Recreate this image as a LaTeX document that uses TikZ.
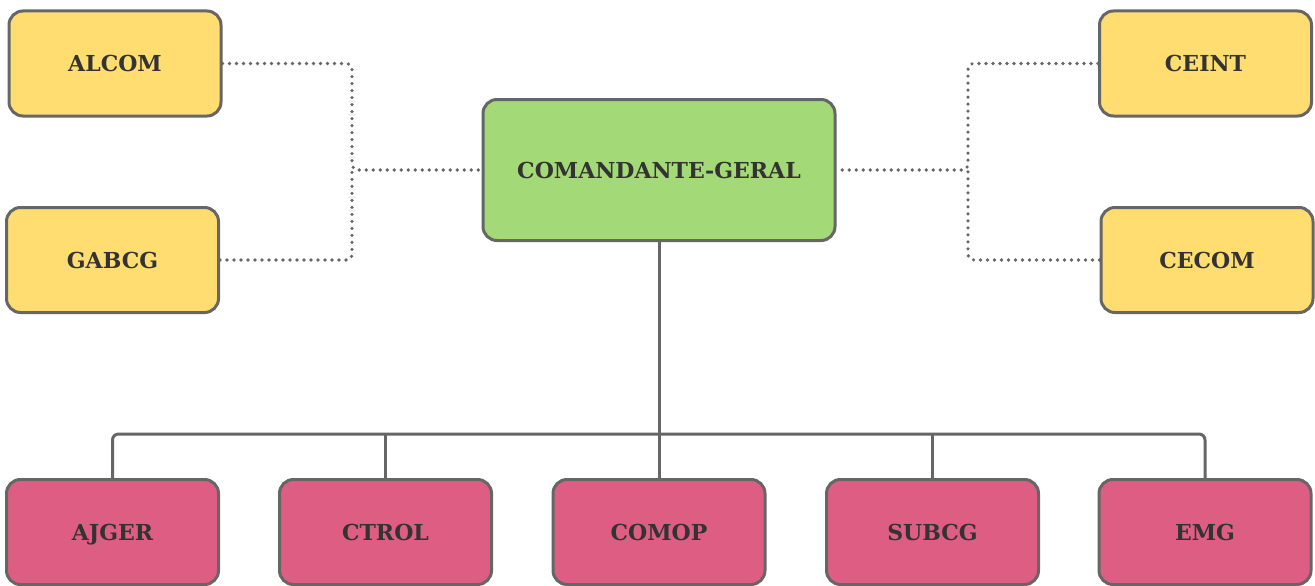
\documentclass[tikz,border=0pt]{standalone}
\usepackage{fontspec}
\setmainfont{DejaVu Serif}
\usepackage{xcolor}
\usepackage{tikz}

\definecolor{boxyellow}{HTML}{FFDD71}
\definecolor{boxgreen}{HTML}{A3D977}
\definecolor{boxpink}{HTML}{DD5E82}
\definecolor{edgegray}{HTML}{666666}
\definecolor{textgray}{HTML}{333333}

\begin{document}
\begin{tikzpicture}[x=1pt, y=-1pt,
  unit/.style={draw=edgegray, line width=3pt, rounded corners=14pt,
    minimum width=212pt, minimum height=105pt, text=textgray,
    text height=16pt, text depth=0pt,
    font=\fontsize{22}{26}\selectfont\bfseries},
  staff/.style={unit, fill=boxyellow},
  chief/.style={unit, fill=boxgreen, minimum width=352pt, minimum height=141pt},
  dept/.style={unit, fill=boxpink},
  link/.style={draw=edgegray, line width=3pt, rounded corners=6pt},
  dotlink/.style={draw=edgegray, line width=3.6pt, line cap=round,
    dash pattern=on 0pt off 7pt, rounded corners=6pt}]
\useasboundingbox (0,0) rectangle (1315,586);

\node[chief] (cg) at (659, 170) {COMANDANTE-GERAL};

\node[staff] (alcom) at (115, 63.5) {ALCOM};
\node[staff] (gabcg) at (112.5, 260) {GABCG};
\node[staff] (ceint) at (1205.5, 63.5) {CEINT};
\node[staff] (cecom) at (1207, 260) {CECOM};

\node[dept] (ajger) at (112.5, 532) {AJGER};
\node[dept] (ctrol) at (385.5, 532) {CTROL};
\node[dept] (comop) at (659, 532) {COMOP};
\node[dept] (subcg) at (932.5, 532) {SUBCG};
\node[dept] (emg) at (1205, 532) {EMG};

% dotted links to the staff
\coordinate (lj) at (352, 170);
\coordinate (rj) at (968, 170);
\draw[dotlink] (alcom.east) -| (lj) -- (cg.west);
\draw[dotlink] (gabcg.east) -| (lj);
\draw[dotlink] (ceint.west) -| (rj) -- (cg.east);
\draw[dotlink] (cecom.west) -| (rj);

% command line
\coordinate (busL) at (112.5, 434);
\coordinate (busR) at (1205, 434);
\draw[link] (cg.south) -- (comop.north);
\draw[link] (ajger.north) -- (busL) -- (busR) -- (emg.north);
\draw[link] (ctrol.north) -- (ctrol.north |- busL);
\draw[link] (subcg.north) -- (subcg.north |- busL);

\end{tikzpicture}
\end{document}
